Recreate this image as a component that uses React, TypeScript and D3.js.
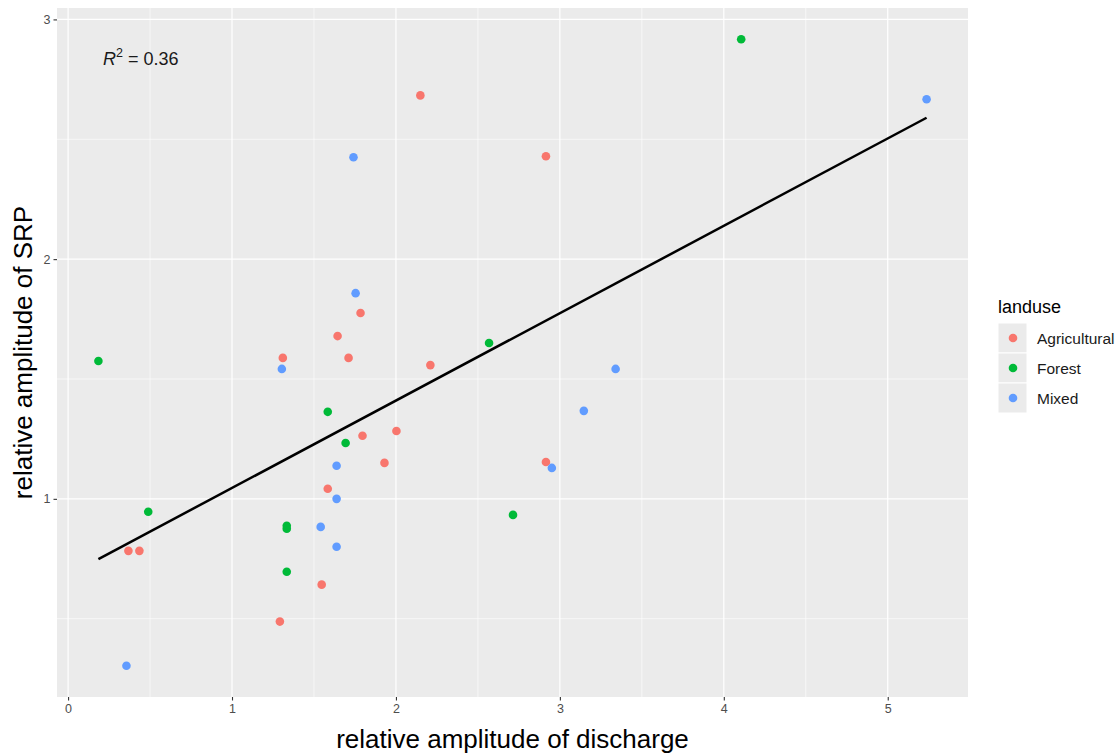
import React, { useEffect, useRef } from 'react';
import * as d3 from 'd3';

// values
const agriX = [2.149, 2.915, 1.784, 1.644, 1.310, 1.711, 2.210, 2.003, 1.796, 1.930, 2.915, 1.584, 0.368, 0.435, 1.547, 1.292];
const agriY = [2.683, 2.429, 1.775, 1.679, 1.588, 1.588, 1.558, 1.283, 1.263, 1.150, 1.154, 1.042, 0.783, 0.783, 0.642, 0.488];
const forestX = [4.106, 0.185, 2.568, 1.584, 1.693, 0.489, 1.334, 1.334, 2.714, 1.334];
const forestY = [2.917, 1.575, 1.650, 1.363, 1.233, 0.946, 0.888, 0.875, 0.933, 0.696];
const mixedX = [5.237, 1.741, 1.754, 1.304, 3.340, 3.146, 2.951, 1.638, 1.638, 1.541, 1.638, 0.356];
const mixedY = [2.667, 2.425, 1.858, 1.542, 1.542, 1.367, 1.129, 1.138, 1.000, 0.883, 0.800, 0.304];

const groups = ['Agricultural', 'Forest', 'Mixed'];
const groupColors = ['#F8766D', '#00BA38', '#619CFF'];

const xTicks = [0, 1, 2, 3, 4, 5];
const yTicks = [1, 2, 3];

// fitted line
const fitIntercept = 0.681;
const fitSlope = 0.3645;
const r2Text = '0.36';

const W = 1119;
const H = 754;
const panel = { left: 57, right: 968, top: 8, bottom: 697 };
const FONT = 'Liberation Sans, Arial, sans-serif';

export default function App() {
  const ref = useRef<SVGSVGElement>(null);

  useEffect(() => {
    const svg = d3.select(ref.current);
    svg.selectAll('*').remove();

    const all = [
      agriX.map((x, i) => ({ x, y: agriY[i], g: 0 })),
      forestX.map((x, i) => ({ x, y: forestY[i], g: 1 })),
      mixedX.map((x, i) => ({ x, y: mixedY[i], g: 2 })),
    ].flat();

    const xMin = d3.min(all, d => d.x)!;
    const xMax = d3.max(all, d => d.x)!;
    const yMin = d3.min(all, d => d.y)!;
    const yMax = d3.max(all, d => d.y)!;
    const xPad = (xMax - xMin) * 0.05;
    const yPad = (yMax - yMin) * 0.05;

    const x = d3.scaleLinear().domain([xMin - xPad, xMax + xPad]).range([panel.left, panel.right]);
    const y = d3.scaleLinear().domain([yMin - yPad, yMax + yPad]).range([panel.bottom, panel.top]);

    svg.append('rect')
      .attr('x', panel.left).attr('y', panel.top)
      .attr('width', panel.right - panel.left).attr('height', panel.bottom - panel.top)
      .attr('fill', '#EBEBEB');

    // minor grid
    const xMinor = d3.range(-0.5, 6, 1).filter(v => x(v) > panel.left && x(v) < panel.right);
    const yMinor = d3.range(0.5, 3.5, 1).filter(v => y(v) > panel.top && y(v) < panel.bottom);
    svg.append('g').selectAll('line').data(xMinor).enter().append('line')
      .attr('x1', d => x(d)).attr('x2', d => x(d))
      .attr('y1', panel.top).attr('y2', panel.bottom)
      .attr('stroke', '#fff').attr('stroke-width', 0.6);
    svg.append('g').selectAll('line').data(yMinor).enter().append('line')
      .attr('y1', d => y(d)).attr('y2', d => y(d))
      .attr('x1', panel.left).attr('x2', panel.right)
      .attr('stroke', '#fff').attr('stroke-width', 0.6);

    // major grid
    svg.append('g').selectAll('line').data(xTicks).enter().append('line')
      .attr('x1', d => x(d)).attr('x2', d => x(d))
      .attr('y1', panel.top).attr('y2', panel.bottom)
      .attr('stroke', '#fff').attr('stroke-width', 1.2);
    svg.append('g').selectAll('line').data(yTicks).enter().append('line')
      .attr('y1', d => y(d)).attr('y2', d => y(d))
      .attr('x1', panel.left).attr('x2', panel.right)
      .attr('stroke', '#fff').attr('stroke-width', 1.2);

    // axes
    const xAxis = svg.append('g')
      .attr('transform', 'translate(0,' + panel.bottom + ')')
      .call(d3.axisBottom(x).tickValues(xTicks).tickSize(3.5).tickPadding(4).tickFormat(d3.format('d')));
    const yAxis = svg.append('g')
      .attr('transform', 'translate(' + panel.left + ',0)')
      .call(d3.axisLeft(y).tickValues(yTicks).tickSize(3.5).tickPadding(3).tickFormat(d3.format('d')));
    [xAxis, yAxis].forEach(a => {
      a.select('.domain').remove();
      a.selectAll('line').attr('stroke', '#333').attr('stroke-width', 1.1);
      a.selectAll('text').attr('fill', '#4D4D4D').style('font-size', '12.5px')
        .style('font-family', FONT);
    });

    // points
    svg.append('g').selectAll('circle').data(all).enter().append('circle')
      .attr('cx', d => x(d.x)).attr('cy', d => y(d.y)).attr('r', 4.3)
      .attr('fill', d => groupColors[d.g]);

    // regression line
    const line = d3.line<number>().x(d => x(d)).y(d => y(fitIntercept + fitSlope * d));
    svg.append('path')
      .attr('d', line([xMin, xMax]))
      .attr('stroke', '#000').attr('stroke-width', 2.5).attr('fill', 'none');

    // R^2 label
    const lab = svg.append('text')
      .attr('x', 103).attr('y', 65)
      .style('font-family', FONT)
      .style('font-size', '18px').attr('fill', '#1a1a1a');
    lab.append('tspan').style('font-style', 'italic').text('R');
    lab.append('tspan').attr('dy', -8).style('font-size', '12.5px').text('2');
    lab.append('tspan').attr('dy', 8).text(' = ' + r2Text);

    // axis titles
    svg.append('text')
      .attr('x', (panel.left + panel.right) / 2).attr('y', 748)
      .attr('text-anchor', 'middle')
      .style('font-family', FONT).style('font-size', '26px')
      .text('relative amplitude of discharge');
    svg.append('text')
      .attr('transform', 'translate(32,' + (panel.top + panel.bottom) / 2 + ') rotate(-90)')
      .attr('text-anchor', 'middle')
      .style('font-family', FONT).style('font-size', '26px')
      .text('relative amplitude of SRP');

    // legend
    const leg = svg.append('g').attr('transform', 'translate(998,0)');
    leg.append('text').attr('x', 0).attr('y', 313)
      .style('font-family', FONT).style('font-size', '18px')
      .text('landuse');
    groups.forEach((g, i) => {
      const cy = 338 + i * 30;
      leg.append('rect').attr('x', 0).attr('y', cy - 15).attr('width', 29).attr('height', 30)
        .attr('fill', '#EBEBEB').attr('stroke', '#fff').attr('stroke-width', 1);
      leg.append('circle').attr('cx', 15).attr('cy', cy).attr('r', 4.3).attr('fill', groupColors[i]);
      leg.append('text').attr('x', 39).attr('y', cy + 6)
        .style('font-family', FONT).style('font-size', '15.5px')
        .attr('fill', '#1a1a1a')
        .text(g);
    });
  }, []);

  return (
    <svg ref={ref} width={W} height={H}
      style={{ position: 'absolute', left: 0, top: 0, background: '#fff' }} />
  );
}
